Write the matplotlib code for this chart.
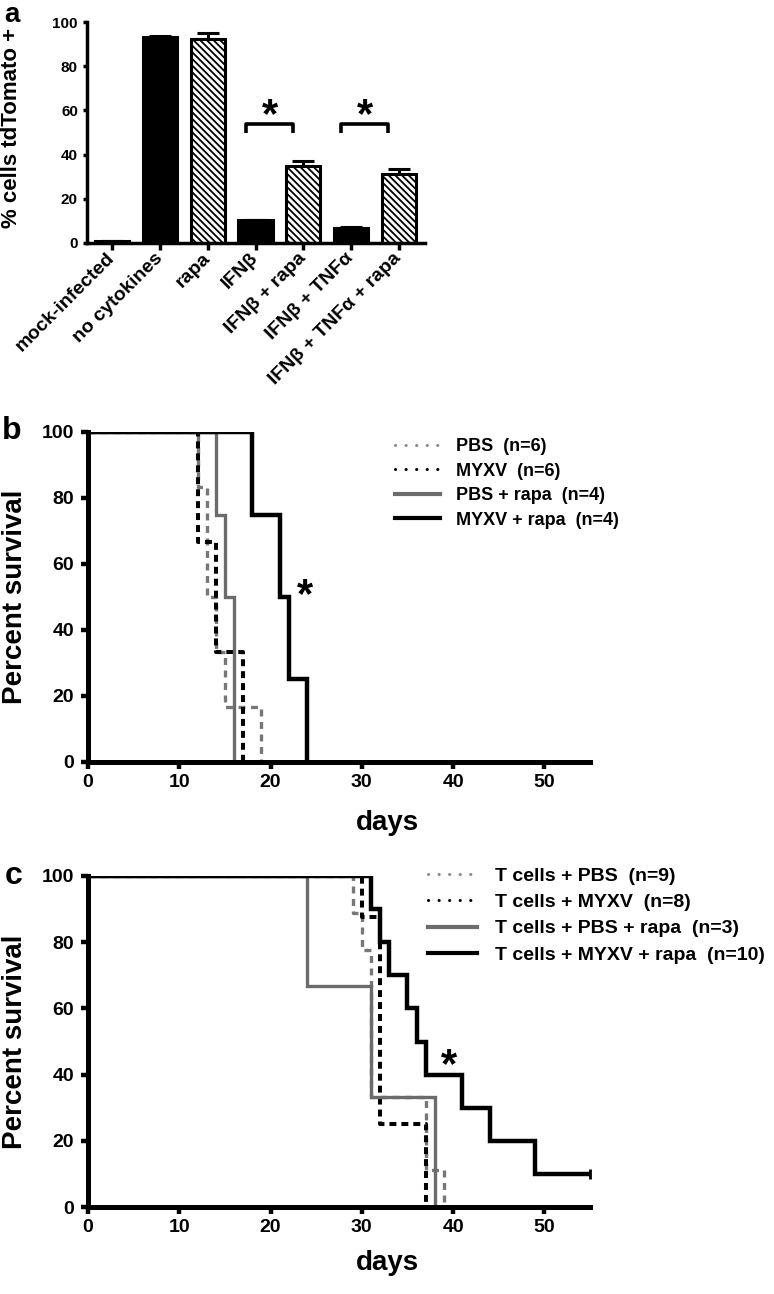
import numpy as np
import matplotlib
matplotlib.use("Agg")
import matplotlib.pyplot as plt
from matplotlib.lines import Line2D
from matplotlib.transforms import ScaledTranslation

plt.rcParams["font.family"] = ["Liberation Sans", "DejaVu Sans"]
plt.rcParams["font.weight"] = "bold"
plt.rcParams["axes.labelweight"] = "bold"
plt.rcParams["hatch.linewidth"] = 1.3
plt.rcParams["lines.scale_dashes"] = False

# ---- panel a: % cells tdTomato+ ----
conditions = ["mock-infected", "no cytokines", "rapa", "IFNβ", "IFNβ + rapa",
              "IFNβ + TNFα", "IFNβ + TNFα + rapa"]
pct_tdtomato = [0.7, 93.0, 92.2, 10.2, 35.0, 7.0, 31.0]
pct_err = [0.2, 0.6, 2.8, 0.3, 2.0, 0.3, 2.4]
with_rapa = [False, False, True, False, True, False, True]
sig_pairs = [(3, 4), (5, 6)]

# ---- panel b: survival, virus +/- rapa ----
b_groups = ["PBS  (n=6)", "MYXV  (n=6)", "PBS + rapa  (n=4)", "MYXV + rapa  (n=4)"]
b_n = [6, 6, 4, 4]
b_death_days = [
    [12, 13, 13, 14, 15, 19],
    [12, 12, 14, 14, 17, 17],
    [14, 15, 16, 16],
    [18, 21, 22, 24],
]

# ---- panel c: survival, T cells + virus +/- rapa ----
c_groups = ["T cells + PBS  (n=9)", "T cells + MYXV  (n=8)",
            "T cells + PBS + rapa  (n=3)", "T cells + MYXV + rapa  (n=10)"]
c_n = [9, 8, 3, 10]
c_death_days = [
    [29, 30, 31, 31, 31, 31, 37, 37, 39],
    [30, 32, 32, 32, 32, 32, 37, 37],
    [24, 31, 38],
    [31, 32, 33, 35, 36, 37, 41, 44, 49],
]
end_day = 55

gray = "#6b6b6b"
curve_styles = [
    dict(color="#777777", lw=2.4, dashes=(5, 4)),
    dict(color="black", lw=2.9, dashes=(5, 3.6)),
    dict(color=gray, lw=2.4),
    dict(color="black", lw=3.2),
]
legend_styles = [
    dict(color="#888888", lw=2.2, dashes=(0.1, 7.5), dash_capstyle="round"),
    dict(color="black", lw=2.2, dashes=(0.1, 7.5), dash_capstyle="round"),
    dict(color=gray, lw=3.0),
    dict(color="black", lw=3.0),
]


def km_curve(days, n):
    t = [0]
    s = [100.0]
    alive = n
    for d in sorted(set(days)):
        alive -= days.count(d)
        t.append(d)
        s.append(100.0 * alive / n)
    if alive > 0:
        t.append(end_day)
        s.append(s[-1])
    return t, s


W, H = 774, 1294
fig = plt.figure(figsize=(W / 100, H / 100), dpi=100)


def box(l, t, r, b):
    return [l / W, 1 - b / H, (r - l) / W, (b - t) / H]


def fx(px):
    return px / W


def fy(py):
    return 1 - py / H


# ---------------- panel a ----------------
ax = fig.add_axes(box(87, 22, 425, 243))
x = np.arange(len(conditions))
for xi, v, r in zip(x, pct_tdtomato, with_rapa):
    ax.bar(xi, v, width=0.72, color="white" if r else "black", edgecolor="black",
           linewidth=2.2, hatch="\\" * 5 if r else None, zorder=2)
ax.errorbar(x, pct_tdtomato, yerr=[np.zeros(len(x)), pct_err], fmt="none",
            ecolor="black", elinewidth=2.2, capsize=8, capthick=2.2, zorder=1)
for i, j in sig_pairs:
    ax.plot([i - 0.2, i - 0.2, j - 0.22, j - 0.22], [50, 54, 54, 50],
            color="black", lw=2.6, solid_capstyle="butt")
    ax.text((i + j) / 2 - 0.2, 57.5, "*", ha="center", va="center", fontsize=30)
ax.set_xlim(-0.53, 6.55)
ax.set_ylim(0, 100)
ax.set_yticks(range(0, 101, 20))
ax.set_xticks(x)
ax.set_xticklabels(conditions, rotation=45, ha="right", va="center",
                   rotation_mode="anchor", fontsize=14)
off = ScaledTranslation(1 / 100, -7.5 / 100, fig.dpi_scale_trans)
for lab in ax.get_xticklabels():
    lab.set_transform(lab.get_transform() + off)
for side in ["top", "right"]:
    ax.spines[side].set_visible(False)
for side in ["left", "bottom"]:
    ax.spines[side].set_linewidth(2.5)
ax.tick_params(axis="y", length=3, width=2.5, pad=3.5, labelsize=11)
ax.tick_params(axis="x", length=5, width=2.5, pad=4)
ax.set_ylabel("% cells tdTomato +", fontsize=16)
ax.yaxis.label.set_va("center")
ax.yaxis.set_label_coords(fx(12), fy(128), transform=fig.transFigure)
fig.text(fx(12), fy(15.5), "a", fontsize=20, ha="center", va="center")


# ---------------- panels b and c ----------------
def survival_panel(rect, groups, ns, deaths, star, leg_anchor, leg_font,
                   hl, htp, lsp, letter, letter_xy, xlabel_top):
    ax = fig.add_axes(box(*rect))
    for days, n, st in zip(deaths, ns, curve_styles):
        t, s = km_curve(days, n)
        ax.step(t, s, where="post", solid_joinstyle="miter", **st)
        if s[-1] > 0:
            ax.plot([t[-1]], [s[-1]], marker="|", ms=7, mew=2, color=st["color"],
                    clip_on=False)
    ax.text(star[0], star[1], "*", ha="center", va="center", fontsize=30)
    ax.set_xlim(0, end_day)
    ax.set_ylim(0, 100)
    ax.set_xticks(range(0, 51, 10))
    ax.set_yticks(range(0, 101, 20))
    for side in ["top", "right"]:
        ax.spines[side].set_visible(False)
    for side in ["left", "bottom"]:
        ax.spines[side].set_linewidth(3.6)
    ax.tick_params(axis="both", length=5, width=3.2, labelsize=14)
    ax.tick_params(axis="y", pad=5)
    ax.tick_params(axis="x", pad=4)
    ax.set_xlabel("days", fontsize=20)
    ax.xaxis.set_label_coords(0.5, fy(xlabel_top), transform=fig.transFigure)
    ax.set_ylabel("Percent survival", fontsize=20)
    ax.yaxis.label.set_va("center")
    ax.yaxis.set_label_coords(fx(15), fy((rect[1] + rect[3]) / 2),
                              transform=fig.transFigure)
    handles = [Line2D([], [], **st) for st in legend_styles]
    ax.legend(handles, groups, loc="upper left",
              bbox_to_anchor=(fx(leg_anchor[0]), fy(leg_anchor[1])),
              bbox_transform=fig.transFigure, frameon=False, borderpad=0,
              borderaxespad=0, fontsize=leg_font, handlelength=hl,
              handletextpad=htp, labelspacing=lsp)
    fig.text(fx(letter_xy[0]), fy(letter_xy[1]), letter, fontsize=23,
             ha="center", va="center")
    return ax


survival_panel((88, 432, 590, 762), b_groups, b_n, b_death_days, (23.8, 50.2),
               (395, 438), 13, 2.5, 0.89, 0.42, "b", (12, 431), 810)
survival_panel((88, 876, 590, 1207), c_groups, c_n, c_death_days, (39.5, 42.6),
               (428, 867), 14, 2.52, 0.93, 0.45, "c", (14, 876), 1250)

fig.savefig("out.png", dpi=100)
